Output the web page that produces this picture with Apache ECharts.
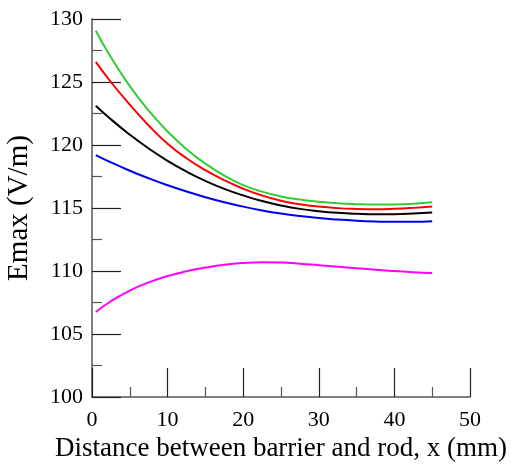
<!DOCTYPE html>
<html>
<head>
<meta charset="utf-8">
<script src="https://cdn.jsdelivr.net/npm/echarts@6/dist/echarts.min.js"></script>
<style>html,body{margin:0;padding:0;background:#fff;}#c{width:511px;height:464px;}</style>
</head>
<body>
<div id="c"></div>
<script>
const xs = [0.5, 2.5, 5, 7.5, 10, 12.5, 15, 17.5, 20, 22.5, 25, 27.5, 30, 32.5, 35, 37.5, 40, 42.5, 45];
const green = [129.07, 126.97, 124.67, 122.72, 121.07, 119.67, 118.52, 117.57, 116.82, 116.3, 115.92, 115.67, 115.5, 115.37, 115.3, 115.27, 115.28, 115.34, 115.45];
const red = [126.6, 125.0, 123.2, 121.55, 120.1, 118.95, 118.0, 117.2, 116.53, 115.99, 115.58, 115.3, 115.11, 114.99, 114.93, 114.91, 114.94, 115.01, 115.11];
const black = [123.12, 122.04, 120.82, 119.72, 118.74, 117.89, 117.15, 116.52, 116.0, 115.55, 115.2, 114.93, 114.75, 114.62, 114.54, 114.5, 114.51, 114.56, 114.64];
const blue = [119.2, 118.62, 117.96, 117.36, 116.81, 116.31, 115.86, 115.46, 115.11, 114.81, 114.56, 114.36, 114.2, 114.08, 113.99, 113.93, 113.9, 113.9, 113.94];
const magenta = [106.75, 107.6, 108.45, 109.1, 109.6, 109.98, 110.27, 110.5, 110.64, 110.7, 110.67, 110.58, 110.46, 110.34, 110.22, 110.1, 110.0, 109.91, 109.84];
const xName = 'Distance between barrier and rod, x (mm)';
const yName = 'Emax (V/m)';

const font = 'Liberation Serif';
function mk(vals, color) {
  return {
    type: 'line', data: xs.map((x, i) => [x, vals[i]]), smooth: 0.5, showSymbol: false,
    lineStyle: { color: color, width: 2 }, itemStyle: { color: color }, animation: false
  };
}
const chart = echarts.init(document.getElementById('c'));
chart.setOption({
  animation: false,
  grid: { left: 92, right: 41, top: 19, bottom: 67, containLabel: false, outerBoundsMode: 'none' },
  xAxis: {
    type: 'value', min: 0, max: 50, interval: 10,
    name: xName, nameLocation: 'middle', nameGap: 23,
    nameTextStyle: { fontFamily: font, fontSize: 27, color: '#000', verticalAlign: 'top' },
    axisLine: { show: true, lineStyle: { color: '#555', width: 1.5 } },
    axisTick: { show: true, inside: true, length: 29, lineStyle: { color: '#222', width: 1.2 } },
    minorTick: { show: true, splitNumber: 2, length: 10, lineStyle: { color: '#555', width: 1.2 } },
    axisLabel: { fontFamily: font, fontSize: 22, color: '#000', margin: 12 },
    splitLine: { show: false }
  },
  yAxis: {
    type: 'value', min: 100, max: 130, interval: 5,
    name: yName, nameLocation: 'middle', nameGap: 58, nameRotate: 90,
    nameTextStyle: { fontFamily: font, fontSize: 29, color: '#000' },
    axisLine: { show: true, lineStyle: { color: '#555', width: 1.5 } },
    axisTick: { show: true, inside: true, length: 29, lineStyle: { color: '#222', width: 1.2 } },
    minorTick: { show: true, splitNumber: 2, length: 10, lineStyle: { color: '#555', width: 1.2 } },
    axisLabel: { fontFamily: font, fontSize: 22, color: '#000', margin: 9 },
    splitLine: { show: false }
  },
  series: [
    mk(green, '#33cc33'),
    mk(red, '#ff0000'),
    mk(black, '#000000'),
    mk(blue, '#0000ee'),
    mk(magenta, '#ff00ff')
  ]
});
</script>
</body>
</html>
